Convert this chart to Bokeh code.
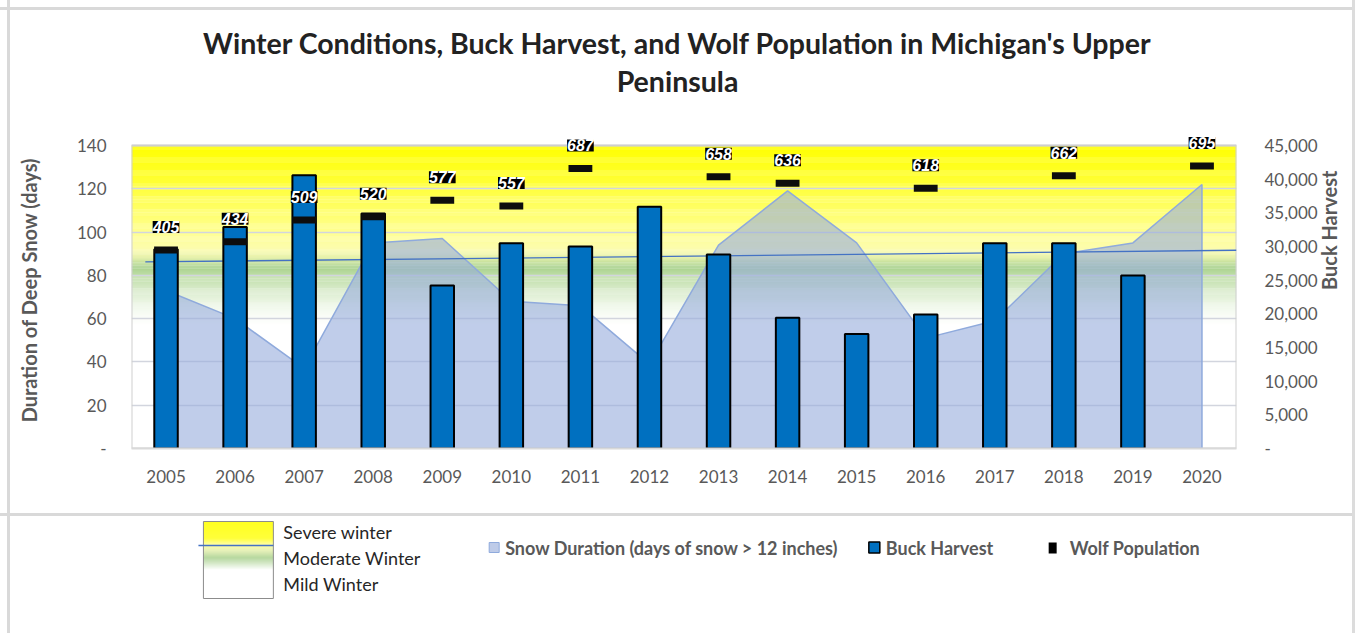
import math
import numpy as np
from bokeh.plotting import figure
from bokeh.models import (Range1d, LinearAxis, FixedTicker, NumeralTickFormatter,
                          ColumnDataSource, LabelSet)
from bokeh.layouts import column
from bokeh.embed import file_html
from bokeh.resources import INLINE
from bokeh.core.properties import value

# ---------------- data ----------------
title_lines = ["Winter Conditions, Buck Harvest, and Wolf Population in Michigan's Upper",
               "Peninsula"]
years = ["2005", "2006", "2007", "2008", "2009", "2010", "2011", "2012",
         "2013", "2014", "2015", "2016", "2017", "2018", "2019", "2020"]
snow_days = [73, 60, 37, 95, 97, 68, 66, 39, 94, 119, 95, 51, 59, 90, 95, 122]

buck_years = ["2005", "2006", "2007", "2008", "2009", "2010", "2011", "2012",
              "2013", "2014", "2015", "2016", "2017", "2018", "2019"]
buck_harvest = [29600, 32900, 40600, 34900, 24200, 30500, 30000, 35900,
                28800, 19400, 17000, 19900, 30500, 30500, 25700]

wolf_years = ["2005", "2006", "2007", "2008", "2009", "2010", "2011",
              "2013", "2014", "2016", "2018", "2020"]
wolf_population = [405, 434, 509, 520, 577, 557, 687, 658, 636, 618, 662, 695]

threshold_days = [86.2, 91.6]          # severe / moderate boundary (start, end)
threshold_x = [0.2, 16.0]

days_ticks = [0, 20, 40, 60, 80, 100, 120, 140]
harvest_ticks = [0, 5000, 10000, 15000, 20000, 25000, 30000, 35000, 40000, 45000]
wolf_axis = [-280, 766]                # hidden scale of the wolf markers

# ---------------- styles / layout ----------------
FONT = "Lato"
GREY = "#595959"
W = 1355
H0 = 120            # title panel
H1 = 396            # chart panel
H2 = 633 - H0 - H1  # legend panel
PLOT_PX = 303       # height of the shaded plot area
FRAME_PX = 317      # frame is a bit taller so labels above the plot area are not clipped
k = FRAME_PX / PLOT_PX
LINE = "#d9d9d9"

grad_days = [140, 122, 100, 92, 88, 84, 80, 72, 64, 57]
grad_rgb = [(255, 255, 0), (255, 255, 55), (255, 255, 145), (252, 252, 175),
            (228, 240, 172), (168, 209, 140), (190, 221, 166), (222, 238, 210),
            (244, 250, 240), (255, 255, 255)]


def interp_color(d, stops, rgbs):
    s = np.array(stops[::-1], dtype=float)
    c = np.array(rgbs[::-1], dtype=float)
    r = [int(round(np.interp(d, s, c[:, j]))) for j in range(3)]
    return "#%02x%02x%02x" % tuple(r)


side_lines = (f"linear-gradient(to right, transparent 7px, {LINE} 7px, {LINE} 10px, transparent 10px),"
              f"linear-gradient(to right, transparent 1352px, #dcdcdc 1352px)")

# ---------------- title panel ----------------
t = figure(width=W, height=H0, x_range=Range1d(131, 1237), y_range=Range1d(H0, 0),
           output_backend="svg", toolbar_location=None,
           x_axis_location=None, y_axis_location=None,
           min_border_left=131, min_border_right=118, min_border_top=0, min_border_bottom=0,
           background_fill_color=None, border_fill_color=None)
t.styles = {"background": side_lines + ","
            f"linear-gradient(to bottom, transparent 7px, {LINE} 7px, {LINE} 10px, transparent 10px),"
            "#ffffff"}
t.grid.visible = False
t.outline_line_color = None
t.text(x=[677.5, 677.5], y=[42, 80], text=title_lines,
       text_font=value(FONT), text_font_style="bold", text_font_size="28.5px",
       text_color="#222222", text_align="center", text_baseline="middle")

# ---------------- chart panel ----------------
p = figure(width=W, height=H1, x_range=years,
           y_range=Range1d(0, days_ticks[-1] * k),
           output_backend="svg", toolbar_location=None,
           min_border_left=131, min_border_right=118,
           min_border_top=131 - H0, min_border_bottom=68,
           background_fill_color="white", border_fill_color=None)
p.styles = {"background": side_lines + ","
            f"linear-gradient(to bottom, transparent {H1 - 3}px, {LINE} {H1 - 3}px),"
            "#ffffff"}
p.extra_y_ranges = {
    "buck": Range1d(0, harvest_ticks[-1] * k),
    "wolf": Range1d(wolf_axis[0], wolf_axis[0] + (wolf_axis[1] - wolf_axis[0]) * k),
}

# background gradient (severe / moderate / mild winter)
step = 0.5
bots = np.arange(56, 140, step)
cols = [interp_color(b + step / 2, grad_days, grad_rgb) for b in bots]
bg = p.quad(left=0, right=16, bottom=bots, top=np.minimum(bots + step * 1.2, 140),
            fill_color=cols, line_color=None)
bg.level = "image"

# grid / plot-area border
p.xgrid.visible = False
p.ygrid.ticker = FixedTicker(ticks=days_ticks)
p.ygrid.grid_line_color = "#D2D5DE"
p.ygrid.grid_line_width = 1.5
p.outline_line_color = None
p.quad(left=[0], right=[16], bottom=[0], top=[days_ticks[-1]],
       fill_color=None, line_color="#CFCFCF", line_width=2)

# snow duration area
px = [years[0]] + years + [years[-1]]
py = [0] + snow_days + [0]
p.patch(px, py, fill_color=(150, 172, 220), fill_alpha=0.6,
        line_color="#8FAADC", line_width=1.5)

# boundary line
p.line(threshold_x, threshold_days, line_color="#4472C4", line_width=1.3)

# buck harvest bars
p.vbar(x=buck_years, top=buck_harvest, width=0.34, bottom=0, y_range_name="buck",
       fill_color="#0070C0", line_color="black", line_width=2)

# wolf population markers
wsrc = ColumnDataSource(dict(x=wolf_years, y=wolf_population,
                             t=[str(w) for w in wolf_population]))
p.rect(x="x", y="y", width=0.345, height=7, height_units="screen",
       fill_color="#0d0d0d", line_color=None, y_range_name="wolf", source=wsrc)

lab_kw = dict(x="x", y="y", text="t", source=wsrc, y_range_name="wolf",
              y_offset=23, text_align="center", text_baseline="middle",
              text_color="white", text_font=value("Liberation Sans"),
              text_font_style="bold italic",
              text_font_size="16px", background_fill_color="black")
try:
    labels = LabelSet(padding=3, border_radius=6, **lab_kw)
except Exception:
    labels = LabelSet(**lab_kw)
p.add_layout(labels)

# axes
xa = p.xaxis[0]
xa.axis_line_color = "#D9D9D9"
xa.axis_line_width = 2
xa.major_tick_line_color = None
xa.minor_tick_line_color = None
xa.major_label_standoff = 15
xa.major_label_text_font = FONT
xa.major_label_text_font_size = "17px"
xa.major_label_text_color = GREY

ya = p.yaxis[0]
ya.ticker = FixedTicker(ticks=days_ticks)
ya.major_label_overrides = {0: "-"}
ya.axis_line_color = None
ya.major_tick_line_color = None
ya.minor_tick_line_color = None
ya.major_label_standoff = 19
ya.major_label_text_font = FONT
ya.major_label_text_font_size = "17px"
ya.major_label_text_color = GREY
ya.axis_label = "Duration of Deep Snow (days)"
ya.axis_label_text_font = FONT
ya.axis_label_text_font_style = "bold"
ya.axis_label_text_font_size = "20px"
ya.axis_label_text_color = GREY
ya.axis_label_standoff = 33

ra = LinearAxis(y_range_name="buck", ticker=FixedTicker(ticks=harvest_ticks),
                formatter=NumeralTickFormatter(format="0,0"),
                major_label_overrides={0: "-"}, axis_label="Buck Harvest")
ra.axis_line_color = None
ra.major_tick_line_color = None
ra.minor_tick_line_color = None
ra.major_label_standoff = 22
ra.major_label_text_font = FONT
ra.major_label_text_font_size = "17px"
ra.major_label_text_color = GREY
ra.axis_label_text_font = FONT
ra.axis_label_text_font_style = "bold"
ra.axis_label_text_font_size = "20px"
ra.axis_label_text_color = GREY
ra.axis_label_standoff = 8
ra.axis_label_orientation = math.pi / 2
p.add_layout(ra, "right")

# ---------------- legend panel ----------------
top2 = H0 + H1
p2 = figure(width=W, height=H2, x_range=Range1d(131, 1237), y_range=Range1d(633, top2),
            output_backend="svg", toolbar_location=None,
            x_axis_location=None, y_axis_location=None,
            min_border_left=131, min_border_right=118, min_border_top=0, min_border_bottom=0,
            background_fill_color=None, border_fill_color=None)
p2.styles = {"background": side_lines + ",#ffffff"}
p2.grid.visible = False
p2.outline_line_color = None

# gradient box
box_top, box_bot = 521.0, 598.0
leg_frac = [0.0, 0.22, 0.30, 0.38, 0.47, 0.54, 0.63, 1.0]
leg_rgb = [(255, 255, 0), (255, 255, 30), (255, 255, 150), (226, 238, 176),
           (172, 210, 145), (205, 228, 190), (255, 255, 255), (255, 255, 255)]
ys_ = np.arange(box_top, box_bot, 1.0)
fr = (ys_ + 0.5 - box_top) / (box_bot - box_top)
lc = []
for f in fr:
    c = [int(round(np.interp(f, leg_frac, [r[j] for r in leg_rgb]))) for j in range(3)]
    lc.append("#%02x%02x%02x" % tuple(c))
p2.quad(left=203, right=273, top=ys_, bottom=np.minimum(ys_ + 1.2, box_bot),
        fill_color=lc, line_color=None)
p2.quad(left=[203], right=[273], top=[box_top], bottom=[box_bot],
        fill_color=None, line_color="#8C8C8C", line_width=1)
p2.segment(x0=[198], y0=[545], x1=[273], y1=[545], line_color="#4472C4", line_width=1.3)

p2.text(x=[283, 283, 283], y=[531, 557, 583],
        text=["Severe winter", "Moderate Winter", "Mild Winter"],
        text_font=value(FONT), text_font_size="18px", text_color="#262626",
        text_align="left", text_baseline="middle")

# series legend
p2.quad(left=[489], right=[499], top=[542], bottom=[552],
        fill_color=(190, 203, 232), line_color="#8FAADC", line_width=1)
p2.quad(left=[869], right=[880], top=[541.5], bottom=[552.5],
        fill_color="#0070C0", line_color="black", line_width=1.5)
p2.quad(left=[1049], right=[1057], top=[542], bottom=[553],
        fill_color="black", line_color=None)
p2.text(x=[505, 886, 1070], y=[547.5, 547.5, 547.5],
        text=["Snow Duration (days of snow > 12 inches)", "Buck Harvest", "Wolf Population"],
        text_font=value(FONT), text_font_style="bold", text_font_size="18px",
        text_color=GREY, text_align="left", text_baseline="middle")

layout = column(t, p, p2, spacing=0)
open("out.html", "w").write(file_html(layout, INLINE))
